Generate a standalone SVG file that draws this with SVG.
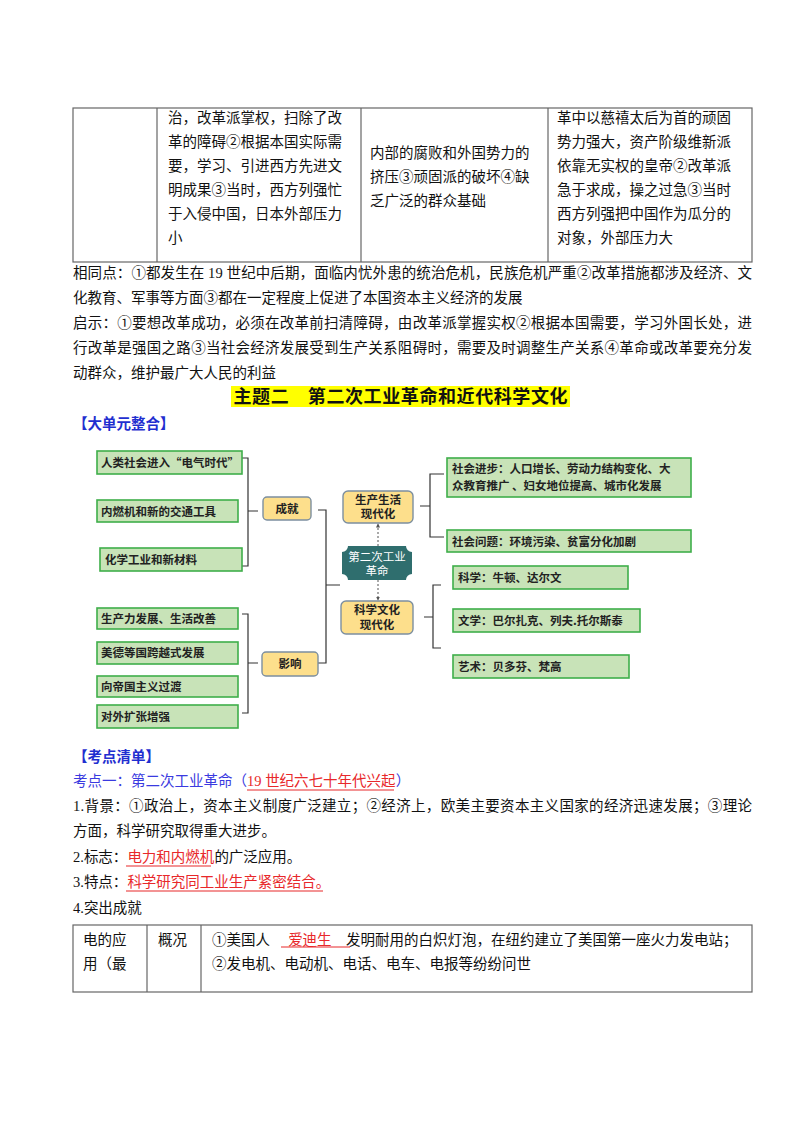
<svg xmlns="http://www.w3.org/2000/svg" width="800" height="1132" viewBox="0 0 800 1132">
<style>
text{font-family:"Liberation Serif","Noto Sans CJK SC",serif;font-size:14.5px;fill:#111}
.m{font-family:"Noto Sans CJK SC",sans-serif;font-size:11.5px;font-weight:bold;fill:#222}
.w{fill:#fff;font-weight:normal}
.g{fill:#C8E3B8;stroke:#3FAE4A;stroke-width:1.6}
.y{fill:#FDDF8C;stroke:#7C8FA0;stroke-width:1.4}
.br{fill:none;stroke:#333;stroke-width:1.2}
.b{fill:#1F2FD0;font-weight:bold;font-family:"Liberation Serif","Noto Sans CJK SC",serif}
.bl{fill:#3A3AE0}
.r{fill:#E8282A}
.u{stroke:#E8282A;stroke-width:1.2}
.tb{fill:none;stroke:#666;stroke-width:1.2}
</style>
<defs>
<marker id="ah" viewBox="0 0 10 10" refX="5" refY="5" markerWidth="5" markerHeight="5" orient="auto"><path d="M0,1L9,5L0,9z" fill="#555"/></marker>
</defs>
<g id="table-top">
<rect class="tb" x="73" y="108" width="679" height="154"/>
<line class="tb" x1="157" y1="108" x2="157" y2="262"/>
<line class="tb" x1="361" y1="108" x2="361" y2="262"/>
<line class="tb" x1="548" y1="108" x2="548" y2="262"/>
<text x="168" y="123">治，改革派掌权，扫除了改</text>
<text x="168" y="147">革的障碍②根据本国实际需</text>
<text x="168" y="171">要，学习、引进西方先进文</text>
<text x="168" y="195">明成果③当时，西方列强忙</text>
<text x="168" y="219">于入侵中国，日本外部压力</text>
<text x="168" y="243">小</text>
<text x="370" y="158">内部的腐败和外国势力的</text>
<text x="370" y="182">挤压③顽固派的破坏④缺</text>
<text x="370" y="206">乏广泛的群众基础</text>
<text x="557" y="123">革中以慈禧太后为首的顽固</text>
<text x="557" y="147">势力强大，资产阶级维新派</text>
<text x="557" y="171">依靠无实权的皇帝②改革派</text>
<text x="557" y="195">急于求成，操之过急③当时</text>
<text x="557" y="219">西方列强把中国作为瓜分的</text>
<text x="557" y="243">对象，外部压力大</text>
</g>
<g id="paras">
<text x="73" y="278" textLength="679" lengthAdjust="spacing">相同点：①都发生在 19 世纪中后期，面临内忧外患的统治危机，民族危机严重②改革措施都涉及经济、文</text>
<text x="73" y="303">化教育、军事等方面③都在一定程度上促进了本国资本主义经济的发展</text>
<text x="73" y="328" textLength="679" lengthAdjust="spacing">启示：①要想改革成功，必须在改革前扫清障碍，由改革派掌握实权②根据本国需要，学习外国长处，进</text>
<text x="73" y="353" textLength="679" lengthAdjust="spacing">行改革是强国之路③当社会经济发展受到生产关系阻碍时，需要及时调整生产关系④革命或改革要充分发</text>
<text x="73" y="378">动群众，维护最广大人民的利益</text>
</g>
<g id="title">
<rect x="231" y="386" width="339" height="21" fill="#FFFF00"/>
<text x="400.5" y="403" text-anchor="middle" style="font-family:'Noto Sans CJK SC',sans-serif;font-weight:bold;font-size:18px" textLength="334" lengthAdjust="spacing">主题二　第二次工业革命和近代科学文化</text>
</g>
<text class="b" x="73" y="429">【大单元整合】</text>
<g id="connectors">
<path class="br" d="M242,458H248V566H242M248,511H258"/>
<path class="br" d="M242,614H248V713H242M248,663H258"/>
<path class="br" d="M318,510H326V663H318M326,585H340"/>
<path class="br" d="M444,474H430V537H444M430,506H420"/>
<path class="br" d="M441,585H433V648H441M433,617H424"/>
<line x1="378" y1="546" x2="378" y2="525" stroke="#555" stroke-dasharray="2,2" marker-end="url(#ah)"/>
<line x1="378" y1="580" x2="378" y2="599" stroke="#555" stroke-dasharray="2,2" marker-end="url(#ah)"/>
</g>
<g id="n-a1"><rect class="g" x="97" y="451" width="145" height="23"/><text class="m" x="101" y="467">人类社会进入“电气时代”</text></g>
<g id="n-a2"><rect class="g" x="97" y="500" width="141" height="22"/><text class="m" x="101" y="516">内燃机和新的交通工具</text></g>
<g id="n-a3"><rect class="g" x="100" y="548" width="142" height="23"/><text class="m" x="105" y="564">化学工业和新材料</text></g>
<g id="n-chengjiu"><rect class="y" x="263" y="497" width="48" height="23" rx="4"/><text class="m" x="287" y="513" text-anchor="middle">成就</text></g>
<g id="n-b1"><rect class="g" x="97" y="608" width="141" height="21"/><text class="m" x="101" y="623">生产力发展、生活改善</text></g>
<g id="n-b2"><rect class="g" x="97" y="642" width="141" height="22"/><text class="m" x="101" y="657">美德等国跨越式发展</text></g>
<g id="n-b3"><rect class="g" x="97" y="676" width="141" height="21"/><text class="m" x="101" y="691">向帝国主义过渡</text></g>
<g id="n-b4"><rect class="g" x="97" y="705" width="141" height="23"/><text class="m" x="101" y="721">对外扩张增强</text></g>
<g id="n-yingxiang"><rect class="y" x="262" y="652" width="56" height="24" rx="4"/><text class="m" x="290" y="668" text-anchor="middle">影响</text></g>
<g id="n-center">
<path d="M348,546H406A6,6 0 0 0 412,552V574A6,6 0 0 0 406,580H348A6,6 0 0 0 342,574V552A6,6 0 0 0 348,546Z" fill="#2F6E6E"/>
<text class="m w" x="377" y="561" text-anchor="middle">第二次工业</text>
<text class="m w" x="377" y="575" text-anchor="middle">革命</text>
</g>
<g id="n-life"><rect class="y" x="343" y="491" width="70" height="32" rx="5"/><text class="m" x="378" y="504" text-anchor="middle">生产生活</text><text class="m" x="378" y="518" text-anchor="middle">现代化</text></g>
<g id="n-sci"><rect class="y" x="341" y="601" width="72" height="33" rx="5"/><text class="m" x="377" y="614" text-anchor="middle">科学文化</text><text class="m" x="377" y="629" text-anchor="middle">现代化</text></g>
<g id="n-c1"><rect class="g" x="447" y="458" width="244" height="39"/><text class="m" x="452" y="473">社会进步：人口增长、劳动力结构变化、大</text><text class="m" x="452" y="490">众教育推广 、妇女地位提高、城市化发展</text></g>
<g id="n-c2"><rect class="g" x="447" y="530" width="244" height="22"/><text class="m" x="452" y="546">社会问题：环境污染、贫富分化加剧</text></g>
<g id="n-d1"><rect class="g" x="453" y="566" width="175" height="23"/><text class="m" x="458" y="582">科学：牛顿、达尔文</text></g>
<g id="n-d2"><rect class="g" x="453" y="609" width="187" height="23"/><text class="m" x="458" y="625">文学：巴尔扎克、列夫.托尔斯泰</text></g>
<g id="n-d3"><rect class="g" x="453" y="655" width="176" height="23"/><text class="m" x="458" y="671">艺术：贝多芬、梵高</text></g>
<g id="lower">
<text class="b" x="73" y="762">【考点清单】</text>
<text x="73" y="786"><tspan class="bl">考点一：第二次工业革命（</tspan><tspan class="r">19 世纪六七十年代兴起</tspan><tspan class="bl">）</tspan></text>
<line class="u" x1="247" y1="790" x2="394" y2="790"/>
<text x="73" y="811" textLength="679" lengthAdjust="spacing">1.背景：①政治上，资本主义制度广泛建立；②经济上，欧美主要资本主义国家的经济迅速发展；③理论</text>
<text x="73" y="836">方面，科学研究取得重大进步。</text>
<text x="73" y="862">2.标志：<tspan class="r">电力和内燃机</tspan>的广泛应用。</text>
<line class="u" x1="126" y1="866" x2="211" y2="866"/>
<text x="73" y="887">3.特点：<tspan class="r">科学研究同工业生产紧密结合。</tspan></text>
<line class="u" x1="126" y1="891" x2="323" y2="891"/>
<text x="73" y="913">4.突出成就</text>
</g>
<g id="table-bottom">
<rect class="tb" x="73" y="925" width="679" height="67"/>
<line class="tb" x1="147" y1="925" x2="147" y2="992"/>
<line class="tb" x1="201" y1="925" x2="201" y2="992"/>
<text x="83" y="945">电的应</text>
<text x="83" y="969">用（最</text>
<text x="158" y="945">概况</text>
<text x="212" y="945">①美国人　 <tspan class="r">爱迪生</tspan>　发明耐用的白炽灯泡，在纽约建立了美国第一座火力发电站；</text>
<line class="u" x1="281" y1="947" x2="350" y2="947"/>
<text x="212" y="969">②发电机、电动机、电话、电车、电报等纷纷问世</text>
</g>
</svg>
